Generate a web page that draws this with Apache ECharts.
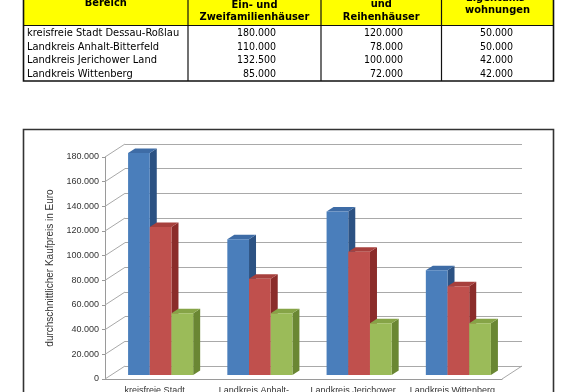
<!DOCTYPE html>
<html><head><meta charset="utf-8">
<script src="https://cdn.jsdelivr.net/npm/echarts@6/dist/echarts.min.js"></script>
<style>html,body{margin:0;padding:0;background:#fff}#c{width:576px;height:392px}</style>
</head><body><div id="c"></div>
<script>
// ---- data ----
const categories = ['kreisfreie Stadt\nDessau-Roßlau', 'Landkreis Anhalt-\nBitterfeld', 'Landkreis Jerichower\nLand', 'Landkreis Wittenberg'];
const tableRegions = ['kreisfreie Stadt Dessau-Roßlau', 'Landkreis Anhalt-Bitterfeld', 'Landkreis Jerichower Land', 'Landkreis Wittenberg'];
const einZweifamilien = [180000, 110000, 132500, 85000];
const reihenhaeuser = [120000, 78000, 100000, 72000];
const eigentumswohnungen = [50000, 50000, 42000, 42000];
const yTicks = [0, 20000, 40000, 60000, 80000, 100000, 120000, 140000, 160000, 180000];
const headerCol1 = ['Bereich'];
const headerCol2 = ['Ein- und', 'Zweifamilienhäuser'];
const headerCol3 = ['und', 'Reihenhäuser'];
const headerCol4 = ['Eigentums-', 'wohnungen'];
const yAxisTitle = 'durchschnittlicher Kaufpreis in Euro';

// ---- helpers ----
const fmt = v => String(v).replace(/\B(?=(\d{3})+(?!\d))/g, '.');
const CF = 'Liberation Sans';
const TF = 'DejaVu Sans Condensed';
const DEPTH = [20, -13];       // wall depth
const BAR_OFF = [6, -4];       // bar front offset into depth
const BAR_D = [7, -4.5];       // bar depth

const palettes = [
  { front: '#4A7EBB', top: '#3E6CA6', side: '#2C5283' },
  { front: '#C0504D', top: '#A7403D', side: '#8B2C2A' },
  { front: '#9BBB59', top: '#86A447', side: '#6A8733' }
];

function barSeries(name, values, k) {
  const p = palettes[k];
  return {
    name, type: 'custom', xAxisIndex: 0, yAxisIndex: 0, z: 3,
    encode: { x: 0, y: 1 },
    data: values.map((v, i) => [i, v]),
    renderItem(params, api) {
      const c = api.coord([api.value(0), api.value(1)]);
      const c0 = api.coord([api.value(0), 0]);
      const bw = api.size([1, 0])[0];
      const w = bw * 0.2186;
      const x0 = c[0] - 1.5 * w + k * w + BAR_OFF[0];
      const top = c[1] + BAR_OFF[1];
      const bot = c0[1] + BAR_OFF[1];
      const dx = BAR_D[0], dy = BAR_D[1];
      return {
        type: 'group',
        children: [
          { type: 'polygon', shape: { points: [[x0 + w, top], [x0 + w + dx, top + dy], [x0 + w + dx, bot + dy], [x0 + w, bot]] }, style: { fill: p.side } },
          { type: 'polygon', shape: { points: [[x0, top], [x0 + dx, top + dy], [x0 + w + dx, top + dy], [x0 + w, top]] }, style: { fill: p.top } },
          { type: 'rect', shape: { x: x0, y: top, width: w, height: bot - top }, style: { fill: p.front } }
        ]
      };
    }
  };
}

// ---- table graphic ----
const tL = 23.5, tR = 553.5, tTop = -40, hBot = 25.5, tBot = 81;
const colX = [188, 321, 441.5];
const rowY = [33.5, 47, 60.5, 74];
const tableEls = [];
tableEls.push({ type: 'rect', shape: { x: tL, y: tTop, width: tR - tL, height: hBot - tTop }, style: { fill: '#FFFF00' } });
tableEls.push({ type: 'rect', shape: { x: tL, y: tTop, width: tR - tL, height: tBot - tTop }, style: { fill: 'none', stroke: '#111', lineWidth: 1.6 } });
tableEls.push({ type: 'line', shape: { x1: tL, y1: hBot, x2: tR, y2: hBot }, style: { stroke: '#111', lineWidth: 1.2 } });
colX.forEach(x => tableEls.push({ type: 'line', shape: { x1: x, y1: tTop, x2: x, y2: tBot }, style: { stroke: '#111', lineWidth: 1.2 } }));
function hdr(lines, cx, y0) {
  lines.forEach((t, i) => tableEls.push({ type: 'text', x: cx, y: y0 + i * 12.5, style: { text: t, font: 'bold 11px "' + TF + '"', fill: '#000', align: 'center', verticalAlign: 'middle' } }));
}
hdr(headerCol1, (tL + colX[0]) / 2, 3);
hdr(headerCol2, (colX[0] + colX[1]) / 2, 5);
hdr(headerCol3, (colX[1] + colX[2]) / 2, 4.5);
hdr(headerCol4, (colX[2] + tR) / 2, -2);
tableRegions.forEach((t, i) => {
  const y = rowY[i];
  const st = (a, s) => ({ font: s + 'px "' + TF + '"', fill: '#000', verticalAlign: 'middle', align: a });
  tableEls.push({ type: 'text', x: 27, y, style: Object.assign({ text: t }, st('left', 11)) });
  tableEls.push({ type: 'text', x: 276, y, style: Object.assign({ text: fmt(einZweifamilien[i]) }, st('right', 10.5)) });
  tableEls.push({ type: 'text', x: 403, y, style: Object.assign({ text: fmt(reihenhaeuser[i]) }, st('right', 10.5)) });
  tableEls.push({ type: 'text', x: 513, y, style: Object.assign({ text: fmt(eigentumswohnungen[i]) }, st('right', 10.5)) });
});
// chart frame
tableEls.push({ type: 'rect', shape: { x: 23.5, y: 129.5, width: 530, height: 300 }, style: { fill: 'none', stroke: '#333', lineWidth: 1.6 } });

const gridLineColor = '#A9A9A9';

const option = {
  animation: false,
  backgroundColor: '#fff',
  grid: [
    { left: 105, right: 74, top: 157, bottom: 13, containLabel: false, outerBoundsMode: 'none' },
    { left: 125, right: 54, top: 144, bottom: 26, containLabel: false, outerBoundsMode: 'none' }
  ],
  xAxis: [
    { gridIndex: 0, type: 'category', data: categories,
      axisLine: { lineStyle: { color: '#9A9A9A' } },
      axisTick: { length: 4, lineStyle: { color: '#9A9A9A' } },
      axisLabel: { fontSize: 9, fontFamily: CF, color: '#333', margin: 6, lineHeight: 11, interval: 0 } },
    { gridIndex: 1, type: 'category', data: categories, show: false }
  ],
  yAxis: [
    { gridIndex: 0, type: 'value', min: 0, max: 180000, interval: 20000,
      axisLine: { show: true, lineStyle: { color: '#9A9A9A' } },
      axisTick: { show: true, length: 3, lineStyle: { color: '#9A9A9A' } },
      splitLine: { show: false },
      axisLabel: { formatter: fmt, fontSize: 9, fontFamily: CF, color: '#333', margin: 6 },
      name: yAxisTitle, nameLocation: 'middle', nameGap: 45,
      nameTextStyle: { fontSize: 10, fontFamily: CF, color: '#333' } },
    { gridIndex: 1, type: 'value', min: 0, max: 180000, interval: 20000,
      axisLine: { show: false }, axisTick: { show: false }, axisLabel: { show: false },
      splitLine: { show: true, lineStyle: { color: gridLineColor, width: 1 } } }
  ],
  graphic: tableEls,
  series: [
    { name: 'walls', type: 'custom', xAxisIndex: 0, yAxisIndex: 0, z: 1, silent: true,
      encode: { x: 0, y: 1 },
      data: yTicks.map(v => [0, v]),
      renderItem(params, api) {
        const cs = params.coordSys;
        const y = api.coord([0, api.value(1)])[1];
        const x = cs.x;
        const children = [{ type: 'line', shape: { x1: x, y1: y, x2: x + DEPTH[0], y2: y + DEPTH[1] }, style: { stroke: gridLineColor, lineWidth: 1 } }];
        if (api.value(1) === 0) {
          const xr = cs.x + cs.width;
          children.push({ type: 'line', shape: { x1: xr, y1: y, x2: xr + DEPTH[0], y2: y + DEPTH[1] }, style: { stroke: gridLineColor, lineWidth: 1 } });
        }
        return { type: 'group', children };
      } },
    barSeries('Ein- und Zweifamilienhäuser', einZweifamilien, 0),
    barSeries('Reihenhäuser', reihenhaeuser, 1),
    barSeries('Eigentumswohnungen', eigentumswohnungen, 2)
  ]
};
const chart = echarts.init(document.getElementById('c'), null, { renderer: 'canvas' });
chart.setOption(option);
</script>
</body></html>
